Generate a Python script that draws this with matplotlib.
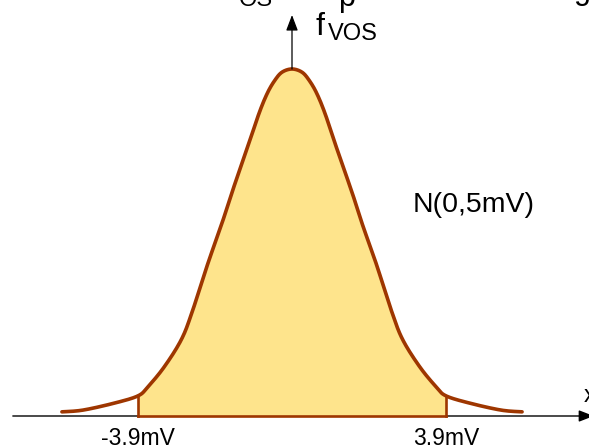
import numpy as np
import matplotlib
matplotlib.use("Agg")
import matplotlib.pyplot as plt

plt.rcParams["font.family"] = ["Liberation Sans", "DejaVu Sans"]

# offset voltage (mV) and relative density
vos_mv = [-5.81, -5.28, -4.49, -3.89, -3.64, -3.23, -2.80, -2.53, -2.12, -1.79,
          -1.52, -1.11, -0.83, -0.62, -0.43, -0.25, 0.0,
          0.25, 0.43, 0.62, 0.83, 1.11, 1.52, 1.79, 2.12, 2.53,
          2.80, 3.23, 3.64, 3.89, 4.49, 5.28, 5.81]
density = [0.012, 0.017, 0.037, 0.058, 0.084, 0.141, 0.219, 0.297, 0.441, 0.548,
           0.643, 0.778, 0.873, 0.931, 0.968, 0.991, 1.0,
           0.991, 0.968, 0.931, 0.873, 0.778, 0.643, 0.548, 0.441, 0.297,
           0.219, 0.141, 0.084, 0.058, 0.037, 0.017, 0.012]
limit_mv = 3.9
tick_labels = ["-3.9mV", "3.9mV"]
dist_label = "N(0,5mV)"

FILL = "#FEE48C"
BROWN = "#9E3600"


def smooth(xs, ys, n=24):
    # catmull-rom through the points so the curve has no corners
    p = np.column_stack([xs, ys])
    p = np.vstack([p[0], p, p[-1]])
    out = []
    t = np.linspace(0, 1, n, endpoint=False)[:, None]
    for i in range(1, len(p) - 2):
        p0, p1, p2, p3 = p[i - 1], p[i], p[i + 1], p[i + 2]
        seg = 0.5 * ((2 * p1) + (-p0 + p2) * t + (2 * p0 - 5 * p1 + 4 * p2 - p3) * t ** 2
                     + (-p0 + 3 * p1 - 3 * p2 + p3) * t ** 3)
        out.append(seg)
    out.append(p[-2][None, :])
    out = np.vstack(out)
    return out[:, 0], out[:, 1]


W, H = 589, 448
fig = plt.figure(figsize=(W / 100, H / 100), dpi=100)
ax = fig.add_axes([0, 0, 1, 1])
px_per_mv = 39.6
px_per_unit = 347
x0, y0 = 292, 32  # origin in pixels (from left, from bottom)
ax.set_xlim(-x0 / px_per_mv, (W - x0) / px_per_mv)
ax.set_ylim(-y0 / px_per_unit, (H - y0) / px_per_unit)
ax.axis("off")

cx, cy = smooth(vos_mv, density)

# x axis with arrow running off the right edge
ax.annotate("", xy=(7.62, 0), xytext=(-7.05, 0),
            arrowprops=dict(arrowstyle="-|>,head_length=0.9,head_width=0.35",
                            color="black", lw=1.0, shrinkA=0, shrinkB=0),
            annotation_clip=False, zorder=1)

# shaded region between the limits
inside = np.abs(cx) <= limit_mv
edge_y = np.interp([-limit_mv, limit_mv], cx, cy)
fx = np.concatenate([[-limit_mv], cx[inside], [limit_mv]])
fy = np.concatenate([[edge_y[0]], cy[inside], [edge_y[1]]])
ax.fill_between(fx, 0, fy, color=FILL, lw=0, zorder=2)
ax.plot([-limit_mv, -limit_mv], [0, edge_y[0]], color=BROWN, lw=1.9, zorder=3)
ax.plot([limit_mv, limit_mv], [0, edge_y[1]], color=BROWN, lw=1.9, zorder=3)
ax.plot([-limit_mv, limit_mv], [0, 0], color=BROWN, lw=1.9, zorder=3)

ax.plot(cx, cy, color=BROWN, lw=2.6, solid_capstyle="round", zorder=4)

# f axis arrow above the peak
ax.annotate("", xy=(0, (416 - 15) / px_per_unit), xytext=(0, max(density)),
            arrowprops=dict(arrowstyle="-|>,head_length=0.95,head_width=0.36",
                            color="black", lw=0.9, shrinkA=0, shrinkB=0),
            zorder=5)


def ftxt(x, y, s, size, **kw):
    fig.text(x / W, 1 - y / H, s, fontsize=size, **kw)


ftxt(315, 35, "f", 23, va="baseline")
ftxt(328, 40, "VOS", 17, va="baseline")
ftxt(413, 205, dist_label, 20.5, va="center")
for v, lab in zip([-limit_mv, limit_mv], tick_labels):
    ftxt(x0 + v * px_per_mv, 438, lab, 16.5, ha="center", va="center")

# pieces of neighbouring text cut by the figure edges
ftxt(239, 6, "OS", 17, va="baseline")
ftxt(338, 6, "p", 22, va="baseline")
ftxt(574, -1, "g", 22, va="baseline")
ftxt(584, 402, "x", 17, va="baseline")

fig.savefig("out.png", dpi=100)
